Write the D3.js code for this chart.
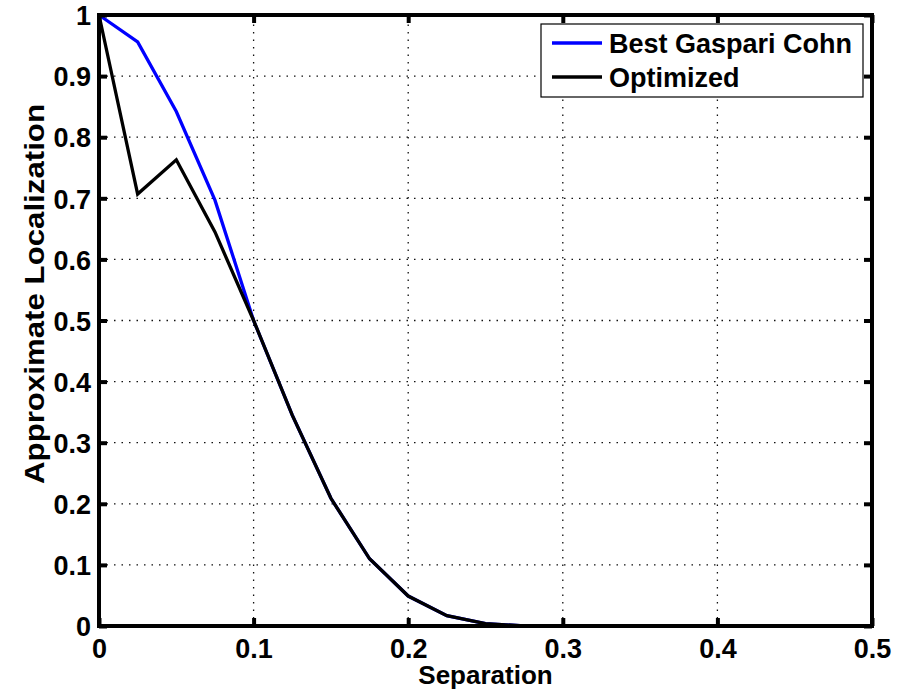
<!DOCTYPE html>
<html>
<head>
<meta charset="utf-8">
<script src="https://cdn.jsdelivr.net/npm/d3@7"></script>
<style>
  html, body { margin: 0; padding: 0; background: #fff; }
  svg { display: block; }
  text { font-family: "Liberation Sans", Arial, Helvetica, sans-serif; font-weight: bold; fill: #000; }
</style>
</head>
<body>
<svg id="chart" width="906" height="693"></svg>
<script>
// ---- data ----
const separation = [0, 0.025, 0.05, 0.075, 0.1, 0.125, 0.15, 0.175, 0.2, 0.225, 0.25, 0.275, 0.3, 0.325, 0.35, 0.375, 0.4, 0.425, 0.45, 0.475, 0.5];
const bestGaspariCohn = [1, 0.956, 0.842, 0.697, 0.5, 0.345, 0.209, 0.11, 0.049, 0.017, 0.004, 0, 0, 0, 0, 0, 0, 0, 0, 0, 0];
const optimized = [1, 0.707, 0.763, 0.645, 0.5, 0.345, 0.209, 0.11, 0.049, 0.017, 0.004, 0, 0, 0, 0, 0, 0, 0, 0, 0, 0];
const xTicks = [0, 0.1, 0.2, 0.3, 0.4, 0.5];
const xTickLabels = ["0", "0.1", "0.2", "0.3", "0.4", "0.5"];
const yTicks = [0, 0.1, 0.2, 0.3, 0.4, 0.5, 0.6, 0.7, 0.8, 0.9, 1];
const yTickLabels = ["0", "0.1", "0.2", "0.3", "0.4", "0.5", "0.6", "0.7", "0.8", "0.9", "1"];
const seriesNames = ["Best Gaspari Cohn", "Optimized"];
const seriesColors = ["#0000ff", "#000000"];
const xLabel = "Separation";
const yLabel = "Approximate Localization";

// ---- layout ----
const L = 99, R = 872, T = 15, B = 626;
const svg = d3.select("#chart");
const x = d3.scaleLinear().domain([0, 0.5]).range([L, R]);
const y = d3.scaleLinear().domain([0, 1]).range([B, T]);

// grid
const grid = svg.append("g");
grid.selectAll("line.gx").data(xTicks.slice(1, -1)).join("line")
  .attr("x1", d => x(d)).attr("x2", d => x(d)).attr("y1", B).attr("y2", T)
  .attr("stroke", "#111").attr("stroke-width", 1.3).attr("stroke-dasharray", "1.5,6");
grid.selectAll("line.gy").data(yTicks.slice(1, -1)).join("line")
  .attr("y1", d => y(d)).attr("y2", d => y(d)).attr("x1", L).attr("x2", R)
  .attr("stroke", "#111").attr("stroke-width", 1.3).attr("stroke-dasharray", "1.5,6");

// series
const series = [bestGaspariCohn, optimized];
const line = d3.line().x((d, i) => x(separation[i])).y(d => y(d));
series.forEach((s, k) => {
  svg.append("path").datum(s).attr("d", line)
    .attr("fill", "none").attr("stroke", seriesColors[k]).attr("stroke-width", 3.3)
    .attr("stroke-linejoin", "miter");
});

// axes with inward ticks
const tickLen = 8;
const axB = svg.append("g").attr("transform", `translate(0,${B})`)
  .call(d3.axisBottom(x).tickValues(xTicks).tickFormat((d, i) => xTickLabels[i]).tickSizeInner(-tickLen).tickSizeOuter(0).tickPadding(13));
const axT = svg.append("g").attr("transform", `translate(0,${T})`)
  .call(d3.axisTop(x).tickValues(xTicks).tickFormat("").tickSizeInner(-tickLen).tickSizeOuter(0));
const axL = svg.append("g").attr("transform", `translate(${L},0)`)
  .call(d3.axisLeft(y).tickValues(yTicks).tickFormat((d, i) => yTickLabels[i]).tickSizeInner(-tickLen).tickSizeOuter(0).tickPadding(8));
const axR = svg.append("g").attr("transform", `translate(${R},0)`)
  .call(d3.axisRight(y).tickValues(yTicks).tickFormat("").tickSizeInner(-tickLen).tickSizeOuter(0));
[axB, axT, axL, axR].forEach(a => {
  a.select(".domain").remove();
  a.selectAll(".tick line").attr("stroke", "#000").attr("stroke-width", 4);
  a.selectAll(".tick text").attr("font-size", 27).attr("font-family", "Liberation Sans, Arial, sans-serif").attr("font-weight", "bold").attr("fill", "#000");
});
axL.selectAll(".tick text").attr("dy", "0.36em");

// frame
svg.append("rect").attr("x", L).attr("y", T).attr("width", R - L).attr("height", B - T)
  .attr("fill", "none").attr("stroke", "#000").attr("stroke-width", 4);

// labels
svg.append("text").attr("x", (L + R) / 2).attr("y", 684).attr("text-anchor", "middle")
  .attr("font-size", 26).text(xLabel);
svg.append("text").attr("transform", "translate(44,294) rotate(-90)").attr("text-anchor", "middle")
  .attr("font-size", 28).attr("textLength", 380).attr("lengthAdjust", "spacingAndGlyphs").text(yLabel);

// legend
const lg = svg.append("g");
lg.append("rect").attr("x", 541).attr("y", 24).attr("width", 322).attr("height", 73)
  .attr("fill", "#fff").attr("stroke", "#000").attr("stroke-width", 1.2);
seriesNames.forEach((n, k) => {
  const yy = 43 + k * 34;
  lg.append("line").attr("x1", 552).attr("x2", 602).attr("y1", yy).attr("y2", yy)
    .attr("stroke", seriesColors[k]).attr("stroke-width", 3.3);
  lg.append("text").attr("x", 609).attr("y", yy).attr("dy", "0.36em").attr("font-size", 27).text(n);
});
</script>
</body>
</html>
